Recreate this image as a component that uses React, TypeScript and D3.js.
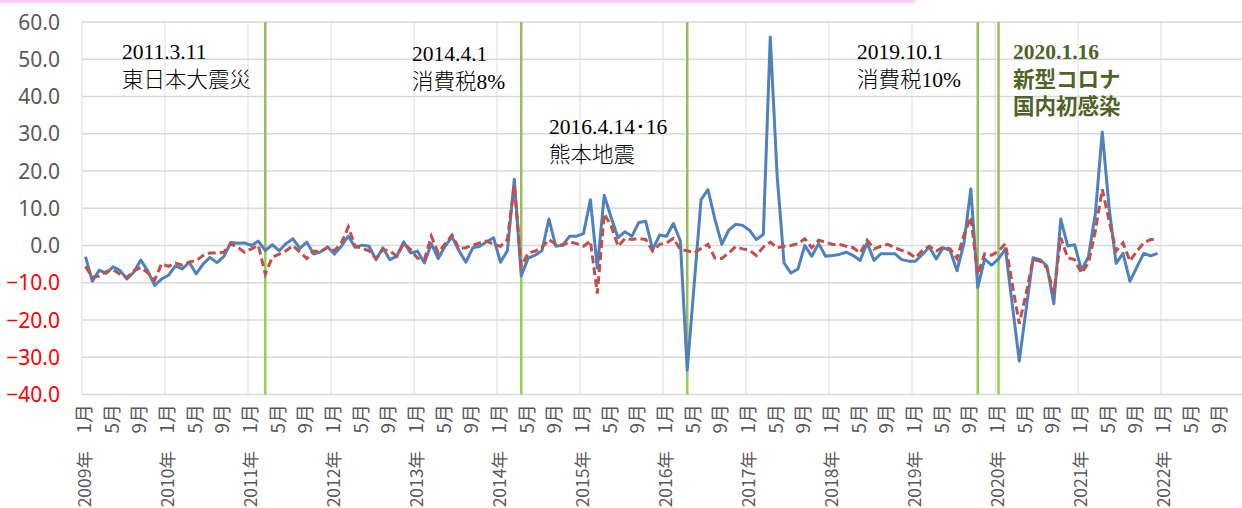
import React, { useEffect, useRef } from "react";
import * as d3 from "d3";

// monthly values, 2009-01 .. 2021-12
const blueSeries = [
  -3.0, -9.6, -6.6, -7.5, -5.7, -6.7, -9.0, -7.1, -3.9, -6.8, -10.7, -9.0,
  -8.0, -5.5, -6.3, -4.5, -7.6, -5.0, -3.2, -4.6, -3.0, 0.8, 0.6, 0.7,
  0.0, 1.2, -1.4, 0.2, -1.4, 0.5, 1.8, -0.8, 0.9, -2.3, -1.7, -0.4,
  -2.3, -0.2, 2.5, -0.5, 0.1, -0.2, -3.8, -0.6, -3.8, -2.9, 1.0, -2.0,
  -1.5, -4.7, 0.5, -3.5, -0.2, 2.3, -1.4, -4.5, -0.6, -0.2, 1.0, 2.1,
  -4.5, -1.4, 17.8, -8.2, -3.4, -2.6, -1.4, 7.1, -0.2, 0.1, 2.5, 2.5,
  3.2, 12.3, -6.1, 13.5, 7.5, 2.1, 3.7, 2.5, 6.2, 6.5, -1.1, 2.8,
  2.5, 5.9, 1.2, -33.4, -10.5, 12.3, 15.0, 7.1, 0.3, 4.1, 5.7, 5.4,
  4.1, 1.6, 3.0, 56.0, 18.7, -4.7, -7.4, -6.3, 0.0, -2.9, 0.5, -2.9,
  -2.7, -2.4, -1.8, -2.7, -4.0, 0.7, -4.0, -2.2, -2.2, -2.2, -3.8, -4.2,
  -4.2, -2.4, -0.4, -3.6, -0.6, -1.3, -6.8, 0.5, 15.2, -11.3, -3.6, -5.3,
  -3.6, -0.9, -16.0, -31.0, -17.0, -3.3, -3.8, -5.5, -15.6, 7.1, -0.1, 0.2,
  -6.6, -3.0, 8.5, 30.5, 10.0, -4.8, -2.1, -9.6, -5.8, -2.1, -2.8, -2.1,
];

const redSeries = [
  -5.6, -8.5, -8.2, -7.0, -6.5, -7.7, -8.6, -6.8, -5.9, -7.3, -9.3, -4.9,
  -5.6, -4.7, -5.3, -4.4, -4.1, -2.7, -2.0, -2.0, -1.8, 0.5, -0.5, -1.8,
  -0.9, 0.0, -7.7, -3.2, -2.3, -1.4, 0.0, -1.8, -3.5, -1.5, -1.7, -0.5,
  -1.4, 0.7, 5.0, -0.2, -0.8, -1.4, -3.5, -1.1, -1.4, -2.9, 0.5, -1.1,
  -3.4, -3.8, 2.5, -2.0, 0.5, 2.8, -0.8, -0.6, 0.1, 0.7, 1.2, 0.3,
  -0.2, 1.6, 16.2, -5.6, -2.0, -1.5, -0.5, 1.6, 0.3, 0.1, 1.0, 0.5,
  -0.2, 1.2, -12.9, 8.5, 5.3, -0.2, 1.9, 1.6, 1.9, 1.6, -1.5, 0.3,
  0.7, 1.9, -1.1, -1.4, -2.0, -0.8, 0.3, -3.4, -3.5, -2.0, -0.3, -0.9,
  -1.3, -2.7, -0.4, 0.9, -0.6, -0.2, 0.0, 0.5, 1.8, -0.6, 1.4, 0.9,
  0.3, 0.3, -0.2, -0.6, -2.0, 1.4, -0.9, -0.2, 0.3, -0.6, -1.3, -2.0,
  -3.3, -1.3, -0.2, -1.5, -0.4, -0.9, -3.5, 2.8, 7.6, -7.8, -2.2, -2.6,
  -1.5, 0.5, -10.5, -21.0, -12.8, -3.8, -4.2, -6.0, -12.8, 2.1, -3.3, -3.8,
  -7.4, -4.7, 3.9, 15.1, 6.6, -1.5, 0.7, -4.2, -1.5, 0.7, 1.6, 1.6,
];

const years = [2009, 2010, 2011, 2012, 2013, 2014, 2015, 2016, 2017, 2018, 2019, 2020, 2021, 2022];
const labelMonths = [1, 5, 9];
const yTicks = [60, 50, 40, 30, 20, 10, 0, -10, -20, -30, -40];

// event month (year, month) and its note
const eventDates = [
  [2011, 3],
  [2014, 4],
  [2016, 4],
  [2019, 10],
  [2020, 1],
];
const eventNotes = [
  ["2011.3.11", "東日本大震災"],
  ["2014.4.1", "消費税8%"],
  ["2016.4.14･16", "熊本地震"],
  ["2019.10.1", "消費税10%"],
  ["2020.1.16", "新型コロナ", "国内初感染"],
];

const App = () => {
  const svgRef = useRef<SVGSVGElement>(null);

  useEffect(() => {
    const width = 1242;
    const height = 508;
    const left = 82;
    const top = 22;
    const bottom = 394.5;
    const monthW = 6.917;
    const nCats = years.length * 12;

    const svg = d3.select(svgRef.current);
    svg.selectAll("*").remove();
    svg.attr("width", width).attr("height", height);

    svg.append("rect").attr("x", 0).attr("y", 0).attr("width", 915).attr("height", 3).attr("fill", "#FFCCFF");

    const x = d3
      .scaleBand<number>()
      .domain(d3.range(nCats))
      .range([left, left + nCats * monthW])
      .padding(0);
    const cx = (i: number) => (x(i) as number) + x.bandwidth() / 2;
    const y = d3.scaleLinear().domain([-40, 60]).range([bottom, top]);
    const right = left + nCats * monthW;

    // grid
    svg
      .append("g")
      .selectAll("line")
      .data(d3.range(0, nCats + 1, 12))
      .join("line")
      .attr("x1", (d) => left + d * monthW)
      .attr("x2", (d) => left + d * monthW)
      .attr("y1", top)
      .attr("y2", bottom)
      .attr("stroke", "#E8E8E8")
      .attr("stroke-width", 1.5);

    svg
      .append("g")
      .selectAll("line")
      .data(yTicks)
      .join("line")
      .attr("x1", left)
      .attr("x2", right)
      .attr("y1", (d) => y(d))
      .attr("y2", (d) => y(d))
      .attr("stroke", "#D9D9D9")
      .attr("stroke-width", 1.5);

    // y labels
    svg
      .append("g")
      .selectAll("text")
      .data(yTicks)
      .join("text")
      .attr("x", 60)
      .attr("y", (d) => y(d))
      .attr("dy", "0.36em")
      .attr("text-anchor", "end")
      .attr("font-family", "'Noto Sans', 'Liberation Sans', sans-serif")
      .attr("font-size", 21)
      .attr("fill", (d) => (d < 0 ? "#FF0000" : "#595959"))
      .text((d) => d3.format(".1f")(d));

    // x labels
    const monthIdx = d3.range(nCats).filter((i) => labelMonths.includes((i % 12) + 1));
    const xFont = "'Noto Sans CJK JP', 'Noto Sans', sans-serif";
    svg
      .append("g")
      .selectAll("text")
      .data(monthIdx)
      .join("text")
      .attr("transform", (i) => `translate(${cx(i) - 1},404) rotate(-90)`)
      .attr("dy", "0.35em")
      .attr("text-anchor", "end")
      .attr("font-family", xFont)
      .attr("font-size", 19)
      .attr("fill", "#595959")
      .text((i) => `${(i % 12) + 1}月`);

    svg
      .append("g")
      .selectAll("text")
      .data(years)
      .join("text")
      .attr("transform", (yr) => `translate(${cx((yr - years[0]) * 12) - 1},451) rotate(-90)`)
      .attr("dy", "0.35em")
      .attr("text-anchor", "end")
      .attr("font-family", xFont)
      .attr("font-size", 17.5)
      .attr("fill", "#595959")
      .text((yr) => `${yr}年`);

    // event lines, split where the blue line crosses
    const evIdx = eventDates.map(([yr, m]) => (yr - years[0]) * 12 + m - 1);
    const ev = svg.append("g");
    evIdx.forEach((i) => {
      const xx = cx(i);
      const yb = y(blueSeries[i]);
      ev.append("line").attr("x1", xx).attr("x2", xx).attr("y1", top).attr("y2", yb)
        .attr("stroke", "#9BBB59").attr("stroke-width", 2.5);
      ev.append("line").attr("x1", xx).attr("x2", xx).attr("y1", yb).attr("y2", bottom)
        .attr("stroke", "#92D050").attr("stroke-width", 2.5);
    });

    const line = d3
      .line<number>()
      .x((_, i) => cx(i))
      .y((d) => y(d));

    svg
      .append("path")
      .datum(blueSeries)
      .attr("fill", "none")
      .attr("stroke", "#4F81BD")
      .attr("stroke-width", 3)
      .attr("stroke-linejoin", "round")
      .attr("d", line);

    svg
      .append("path")
      .datum(redSeries)
      .attr("fill", "none")
      .attr("stroke", "#C0504D")
      .attr("stroke-width", 3)
      .attr("stroke-dasharray", "8 4")
      .attr("d", line);

    // notes
    const notePos = [
      [122, 59],
      [412, 61],
      [549, 134],
      [857, 59],
      [1013, 59],
    ];
    eventNotes.forEach((lines, k) => {
      const last = k === eventNotes.length - 1;
      const t = svg
        .append("text")
        .attr("x", notePos[k][0])
        .attr("y", notePos[k][1])
        .attr("font-family", "'Liberation Serif', 'Noto Sans CJK JP', serif")
        .attr("font-size", 21.5)
        .attr("font-weight", last ? "bold" : 300)
        .attr("fill", last ? "#4F6228" : "#000000");
      lines.forEach((s, j) => {
        t.append("tspan").attr("x", notePos[k][0]).attr("dy", j === 0 ? 0 : 27.5).text(s);
      });
    });
  }, []);

  return (
    <div style={{ position: "absolute", left: 0, top: 0, background: "#fff" }}>
      <svg ref={svgRef}></svg>
    </div>
  );
};

export default App;
